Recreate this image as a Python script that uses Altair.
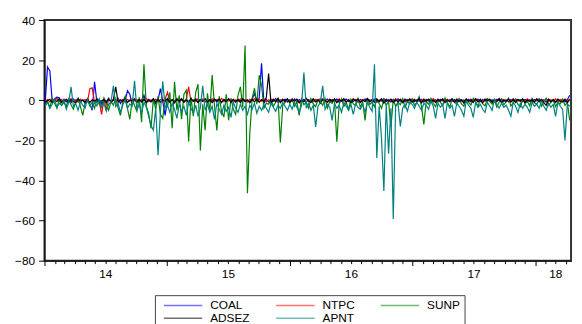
import altair as alt
import pandas as pd

SERIES = ["COAL", "NTPC", "SUNP", "ADSEZ", "APNT"]
# legend order (column-major grid): COAL, ADSEZ | NTPC, APNT | SUNP
LEGEND_ORDER = ["COAL", "ADSEZ", "NTPC", "APNT", "SUNP"]
LEGEND_COLORS = ["#0000ff", "#000000", "#ff0000", "#008080", "#008000"]
FIRST_WEEK = "2014-01-03"
N_WEEKS = 224
Y_TICKS = [-80, -60, -40, -20, 0, 20, 40]

COAL = [
    -1.5, 16.6, 14.6, -0.5, 0.8, 1.5, 1.2, -1.0, 0.5, -0.8,
    0.3, -1.2, 0.6, -0.4, 1.0, -0.9, 0.2, -1.5, 0.8, -2.0,
    -5.0, 9.2, -1.0, 0.5, -1.8, 0.4, -0.6, 1.1, -1.3, 0.2,
    -0.7, 0.9, -1.6, 0.3, -0.5, 4.8, 3.0, -2.0, 0.6, -1.1,
    0.4, -0.8, 2.5, -1.4, 0.5, -0.9, 0.8, -1.7, 0.2, 5.8,
    -0.6, -7.5, 0.7, -1.0, 0.3, -0.5, 1.0, -1.2, 0.4, -0.7,
    0.6, -1.3, 0.2, -0.4, 0.9, -1.0, 0.3, -0.6, 0.8, -1.1,
    0.2, -0.5, 0.7, -0.9, 0.4, -1.2, 0.5, -0.3, 0.6, -0.8,
    0.3, -1.0, 0.5, -0.4, 0.8, -0.7, 0.2, -1.3, 0.6, 3.3,
    -0.5, 1.0, 18.5, -1.5, 0.4, -0.8, 0.3, -0.6, 0.9, -1.0,
    0.2, -0.4, 0.6, -0.9, 0.3, -0.5, 0.7, -0.8, 0.4, -0.6,
    0.5, -1.0, 0.3, -0.4, 0.8, -0.7, 0.2, -0.9, 0.5, -0.3,
    0.6, -0.8, 0.4, -0.5, 0.7, -1.1, 0.3, -0.4, 0.6, -0.7,
    0.2, -0.6, 0.5, -0.9, 0.4, -0.3, 0.7, -0.8, 0.3, -0.5,
    0.6, -1.0, 0.2, -0.4, 0.8, -0.6, 0.3, -0.9, 0.5, -0.4,
    0.7, -0.5, 0.2, -0.8, 0.4, -0.3, 0.6, -0.7, 0.3, -0.5,
    0.5, -0.9, 0.4, -0.4, 0.7, -0.6, 0.2, -0.8, 0.5, -0.3,
    0.6, -0.7, 0.3, -0.5, 0.4, -0.9, 0.7, -0.4, 0.2, -0.6,
    0.5, -0.8, 0.3, -0.4, 0.6, -0.7, 0.4, -0.5, 0.8, -0.6,
    0.2, -0.9, 0.5, -0.3, 0.7, -0.6, 0.3, -0.8, 0.4, -0.5,
    0.6, -0.4, 0.3, -0.7, 0.5, -0.6, 0.2, -0.8, 0.4, -0.3,
    0.7, -0.5, 0.3, -0.9, 0.6, -0.4, 0.2, -0.7, 0.5, -0.6,
    0.4, -0.8, 0.3, 2.5,
]

NTPC = [
    -0.5, 0.4, -0.8, 0.6, -0.3, 0.9, -0.6, 0.3, -1.0, 0.5,
    -0.4, 0.8, -0.7, 0.2, -0.9, 0.6, -0.3, 0.4, -0.8, 5.8,
    6.2, -1.0, 0.5, -0.6, -7.0, 0.3, -5.0, 0.7, -0.5, 0.4,
    -0.8, 0.6, -0.4, 0.3, -0.9, 0.5, -0.6, 0.8, -0.3, 0.4,
    -0.7, 0.5, -0.4, 0.9, -0.6, 0.3, -0.8, 0.6, -0.5, 0.4,
    -0.9, 0.7, 4.0, -0.6, 0.3, -0.8, 0.5, -0.4, 0.9, -0.7,
    0.4, 6.7, -0.8, 0.3, -0.5, 0.7, -0.4, 0.6, -0.9, 0.3,
    -0.5, 0.8, -0.6, 0.4, -0.3, 0.9, -0.7, 0.5, -0.4, 0.6,
    -0.8, 0.3, -0.5, 0.7, -0.6, 0.4, -0.9, 0.5, -0.3, 0.8,
    -0.6, 0.4, -0.5, 0.7, -0.8, 0.3, -0.4, 0.6, -0.7, 0.5,
    -0.4, 0.6, -0.8, 0.3, -0.5, 0.7, -0.3, 0.5, -0.9, 0.4,
    -0.6, 0.8, -0.4, 0.3, -0.7, 0.5, -0.5, 0.9, -0.3, 0.4,
    -0.8, 0.6, -0.5, 0.3, -0.6, 0.7, -0.4, 0.5, -0.9, 0.3,
    -0.5, 0.8, -0.3, 0.6, -0.7, 0.4, -0.5, 0.9, -0.6, 0.3,
    -0.4, 0.7, -0.8, 0.5, -0.3, 0.6, -0.7, 0.4, -0.5, 0.8,
    -0.6, 0.3, -0.4, 0.7, -0.9, 0.5, -0.3, 0.6, -0.8, 0.4,
    -0.5, 0.7, -0.4, 0.3, -0.6, 0.8, -0.5, 0.4, -0.7, 0.6,
    -0.3, 0.5, -0.8, 0.4, -0.6, 0.7, -0.4, 0.3, -0.9, 0.5,
    -0.5, 0.6, -0.3, 0.8, -0.7, 0.4, -0.5, 0.6, -0.4, 0.3,
    -0.8, 0.5, -0.6, 0.7, -0.3, 0.4, -0.7, 0.6, -0.5, 0.8,
    -0.4, 0.3, -0.6, 0.5, -0.8, 0.7, -0.3, 0.4, -0.5, 0.6,
    -0.7, 0.4, -0.4, 0.8, -0.6, 0.3, -0.5, 0.7, -0.8, 0.4,
    -0.3, 0.6, -0.5, 0.7,
]

SUNP = [
    -2.0, -0.5, -3.5, 0.8, -1.5, -4.0, 0.5, -2.5, -1.0, -3.0,
    0.6, -2.2, -4.5, -0.8, 1.0, -3.2, -7.5, -1.2, 0.4, -2.8,
    -1.0, -4.0, 0.8, -2.0, -3.5, 1.2, -1.6, -5.0, -0.6, -2.4,
    0.9, -3.8, -7.5, -1.0, 2.0, -4.2, -9.5, 0.5, -2.6, -5.5,
    1.5, -11.0, 18.0, -3.0, -6.5, -14.0, 0.8, -4.5, 2.0, -7.0,
    -9.0, 1.0, -3.5, 4.0, -14.0, 9.2, -5.0, 2.5, -9.5, 3.0,
    5.0, -20.5, 1.5, -8.0, 4.0, 8.0, -25.0, -2.0, -15.0, 3.5,
    -6.0, 12.6, -3.0, -15.0, 2.0, -5.5, -8.3, 3.0, -10.0, 1.0,
    -4.5, -7.0, 2.5, 6.7, -3.5, 27.3, -46.4, -16.5, 1.0, 6.0,
    -2.0, 12.5, 7.5, -4.0, -1.5, -2.0, 0.5, -3.0, -1.0, 0.8,
    -21.0, -2.5, -1.0, 0.5, -1.5, 0.5, -3.0, -0.8, -7.5, 0.6,
    -2.2, -1.0, -4.0, 0.8, -1.8, -3.2, 0.4, -0.9, -2.5, 1.0,
    -3.8, -0.6, -1.5, 0.3, -20.7, -2.0, 0.7, -3.0, -1.2, -4.5,
    0.5, -1.8, -2.6, 0.9, -3.5, -0.7, -10.0, 0.4, -2.0, -1.1,
    -3.3, 0.6, -1.6, -4.0, 0.3, -2.4, -0.8, -13.3, 0.5, -3.0,
    -1.0, -2.2, 0.8, -3.6, -0.5, -1.8, 0.6, -2.5, -1.0, 1.8,
    -3.0, -12.0, -0.4, -2.0, 0.9, -1.5, -3.2, 0.4, -0.9, -2.6,
    1.2, -1.4, -3.5, 0.5, -0.8, -2.2, 0.7, -1.8, -3.0, 0.3,
    -1.1, -2.4, 1.0, -0.6, -3.1, 0.4, -1.7, -2.8, 0.8, -0.5,
    -2.0, 0.2, -3.4, -1.0, 0.6, -2.3, -0.7, 1.1, -2.9, -1.2,
    0.4, -2.1, -3.3, 0.5, -1.4, -0.6, -2.7, 0.9, -1.3, -2.0,
    0.5, -3.0, -0.8, 1.0, -2.4, -1.1, 0.3, -3.2, -0.9, -1.8,
    0.6, -2.5, -1.2, -10.0,
]

ADSEZ = [
    -0.8, -0.3, 0.5, -1.2, 0.2, -0.6, 0.8, -1.0, -0.2, 0.4,
    -0.9, 0.3, -0.5, -1.3, 0.6, -0.4, 0.1, -0.8, 0.5, -1.1,
    0.2, -0.6, 0.7, -0.9, -0.3, 0.4, -1.2, 0.5, -0.7, 0.2,
    6.7, -1.0, 0.3, -0.5, 0.8, -1.1, 0.2, -0.4, 0.6, -0.9,
    0.3, -0.7, 0.5, -1.2, 0.1, -0.6, 0.7, -0.8, 0.4, -1.0,
    0.2, -0.5, 0.8, -0.9, 0.3, -1.3, 0.5, -0.4, 0.6, -1.0,
    0.1, -0.7, 0.9, -0.6, 0.2, -1.1, 0.4, -0.5, 0.7, -0.8,
    0.3, -1.2, 0.5, -0.4, 0.6, -0.9, 0.2, -0.7, 0.8, -1.0,
    0.4, -0.6, 0.3, -1.1, 0.7, -0.5, 0.2, -0.9, 0.5, -0.8,
    0.6, -1.0, 0.3, -0.6, 1.2, 13.3, -1.5, 0.4, -0.7, 0.9,
    -1.2, 0.3, -0.6, 0.8, -1.0, 0.2, -0.5, 0.6, -1.3, 0.1,
    -0.7, 0.9, -0.4, -1.1, 0.5, -0.8, 0.3, -1.4, 0.6, -0.3,
    -1.0, 0.4, -0.6, 0.7, -1.2, 0.2, -0.5, 0.8, -0.9, 0.3,
    -1.3, 0.5, -0.4, 0.6, -1.1, 0.1, -0.7, 0.9, -0.8, 0.2,
    -1.0, 0.4, -0.6, 0.7, -1.4, 0.3, -0.5, 0.6, -1.1, 0.2,
    -0.8, 0.5, -1.2, 0.4, -0.3, 0.7, -1.0, 0.2, -0.6, 0.8,
    -1.3, 0.3, -0.5, 0.6, -0.9, 0.1, -1.1, 0.5, -0.4, 0.7,
    -1.2, 0.2, -0.6, 0.8, -1.0, 0.4, -0.7, 0.3, -1.4, 0.6,
    -0.5, 0.2, -1.1, 0.7, -0.8, 0.4, -1.3, 0.5, -0.3, 0.6,
    -1.0, 0.3, -0.7, 0.8, -1.2, 0.1, -0.5, 0.6, -0.9, 0.4,
    -1.1, 0.5, -0.4, 0.7, -1.3, 0.2, -0.6, 0.3, -1.0, 0.8,
    -0.7, 0.4, -1.2, -2.5, 0.5, -0.8, 0.3, -1.1, 0.6, -0.5,
    -0.9, 0.4, -1.2, 0.3,
]

APNT = [
    -3.0, -1.0, -4.0, -2.0, 0.5, -3.5, -1.5, -2.5, 0.0, -4.5,
    -1.2, 6.7, -3.0, -1.8, -5.0, -0.5, -2.6, -3.8, 0.3, -2.2,
    -4.2, -1.0, -2.8, 0.6, -3.6, -1.4, -5.5, -2.0, -0.8, 7.2,
    -3.2, -1.6, -6.0, -2.4, 0.2, -4.0, -1.8, -3.0, 9.7, -5.0,
    -2.0, -6.5, -1.0, -3.4, -8.0, -12.5, -15.0, -4.0, -27.4, -6.0,
    9.4, -3.5, -2.5, -6.0, -1.5, -4.5, -9.0, -2.0, -5.5, -3.0,
    -7.5, -1.0, -4.0, -6.5, -2.5, -8.0, -3.5, 7.2, -5.0, -2.0,
    -6.0, -3.0, -9.5, -1.5, -4.5, -7.0, -2.5, -5.5, -3.5, -8.5,
    -1.0, -4.0, -6.0, -2.0, -5.0, -3.0, -7.0, -2.5, -4.5, -1.5,
    -6.5, -3.0, -5.0, -2.0, -4.0, -6.0, -1.5, -3.5, -5.5, -2.5,
    -4.0, -1.0, -3.0, -5.0, -2.0, -4.5, -1.0, -3.5, -6.0, -2.5,
    13.8, -4.0, -1.5, -5.0, -2.5, -13.3, -3.0, -1.0, 7.2, -4.5,
    -2.0, -3.5, -10.0, -1.5, -4.0, -2.5, -6.0, -1.0, -3.0, -5.0,
    -2.0, -7.0, -1.5, -3.5, -4.5, -2.0, -6.0, -1.0, -3.5, -5.5,
    18.0, -28.8, -3.0, -19.0, -45.3, -2.0, -26.7, -4.0, -59.2, -3.0,
    -1.5, -13.0, -4.0, -2.0, -5.5, -1.0, -2.0, -4.0, -1.0, -3.0,
    -5.0, -1.5, -2.5, -4.5, -0.5, -3.0, -9.0, -1.5, -3.5, -2.0,
    -9.0, -1.0, -4.0, -2.5, -8.0, -1.5, -3.0, -5.0, -8.0, -0.5,
    -2.5, -4.0, -8.5, -1.0, -3.5, -2.0, -4.5, -6.0, -1.0, -3.0,
    -5.0, 0.5, -2.0, -4.0, -1.5, -3.5, -2.5, -5.0, -8.0, -1.0,
    -3.0, -6.0, -1.5, -4.0, -2.0, -3.5, -6.0, -1.0, -3.0, -2.0,
    -4.0, -0.5, -3.0, -5.0, -1.5, -3.5, -2.0, -8.0, -1.0, -3.0,
    -4.5, -20.0, -2.0, -3.0,
]

dates = pd.date_range(FIRST_WEEK, periods=N_WEEKS, freq="7D").strftime("%Y-%m-%d")
rows = []
for name, vals in zip(SERIES, [COAL, NTPC, SUNP, ADSEZ, APNT]):
    for d, v in zip(dates, vals):
        rows.append({"date": d, "series": name, "value": v})
df = pd.DataFrame(rows)

label_expr = ("(month(datum.value) == 6 || (year(datum.value) == 2018 && month(datum.value) == 2))"
              " ? timeFormat(datum.value, '%y') : ''")

x_axis = alt.Axis(
    tickCount={"interval": "month", "step": 1},
    tickSize={"condition": {"test": "month(datum.value) == 0", "value": 5}, "value": 3},
    labelExpr=label_expr,
    labelOverlap=False,
    labelFlush=False,
    labelPadding=5,
    title=None,
    grid=False,
)

y_axis = alt.Axis(values=Y_TICKS, tickSize=6, labelPadding=4, title=None, grid=False)

legend = alt.Legend(
    orient="none",
    legendX=112,
    legendY=279,
    columns=3,
    title=None,
    symbolType="stroke",
    symbolSize=1521,
    symbolStrokeWidth=1.5,
    symbolOpacity=0.55,
    clipHeight=13,
    labelFont="Liberation Sans",
    labelFontSize=12,
    labelColor="black",
    labelOffset=7,
    columnPadding=21,
    rowPadding=0,
    padding=4,
    symbolOffset=4,
    strokeColor="#444",
    fillColor="white",
)

chart = (
    alt.Chart(df)
    .mark_line(strokeWidth=1.2)
    .encode(
        x=alt.X("date:T",
                scale=alt.Scale(domain=[alt.DateTime(year=2014, month=1, date=1),
                                        alt.DateTime(year=2018, month=4, date=17)]),
                axis=x_axis),
        y=alt.Y("value:Q", scale=alt.Scale(domain=[-80, 40], nice=False), axis=y_axis),
        color=alt.Color("series:N",
                        scale=alt.Scale(domain=LEGEND_ORDER, range=LEGEND_COLORS),
                        legend=legend),
    )
    .properties(
        width=534,
        height=244,
        padding={"left": 37, "top": 10, "right": 3, "bottom": 62},
        autosize=alt.AutoSizeParams(type="none"),
    )
    .configure_axis(
        labelFont="Liberation Sans",
        labelFontSize=12,
        labelColor="black",
        domainColor="black",
        tickColor="black",
        domainWidth=1,
    )
    .configure_view(stroke="#333", strokeWidth=2)
)

chart.save("out.html", embed_options={"renderer": "svg", "actions": False})
